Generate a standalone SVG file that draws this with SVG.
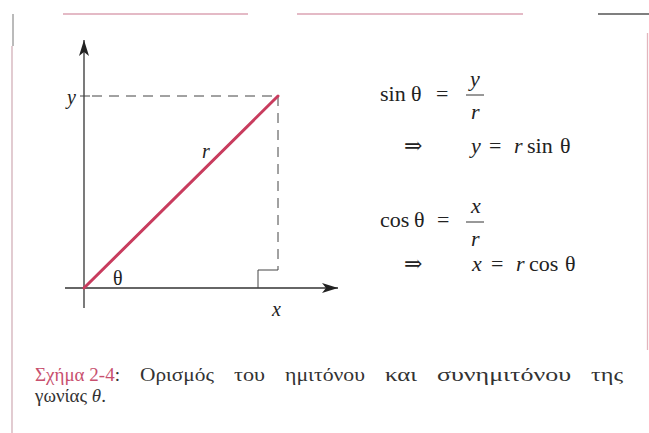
<svg xmlns="http://www.w3.org/2000/svg" width="649" height="433" viewBox="0 0 649 433">
<defs>
<style>
.m{font-family:"Liberation Serif","DejaVu Serif","Times New Roman",serif;font-size:22px;fill:#222}
.s{font-size:20px}
.i{font-style:italic}
.cap{font-family:"Liberation Serif","DejaVu Serif","Times New Roman",serif;font-size:19px;fill:#333}
.red{fill:#c8506e}
.ax{stroke:#333;stroke-width:1.3;fill:none}
.dash{stroke:#444;stroke-width:1;stroke-dasharray:10 7;fill:none}
.frac{stroke:#333;stroke-width:1}
</style>
<marker id="ah" viewBox="0 0 16 10" refX="16" refY="5" markerWidth="16" markerHeight="10" markerUnits="userSpaceOnUse" orient="auto">
<path d="M0,0 L16,5 L0,10 L4,5 Z" fill="#222"/>
</marker>
</defs>
<rect width="649" height="433" fill="#fff"/>
<g id="frame">
<line x1="63" y1="14" x2="248" y2="14" stroke="#dba3b3" stroke-width="1.5"/>
<line x1="297" y1="14" x2="523" y2="14" stroke="#dba3b3" stroke-width="1.5"/>
<line x1="598" y1="14" x2="649" y2="14" stroke="#555" stroke-width="1.3"/>
<line x1="13" y1="14" x2="13" y2="46" stroke="#777" stroke-width="1"/>
<line x1="12" y1="46" x2="12" y2="433" stroke="#d3b0b8" stroke-width="1.3"/>
<line x1="647.5" y1="33" x2="647.5" y2="350" stroke="#e3b5bd" stroke-width="1.3"/>
</g>
<g id="axes">
<line class="ax" x1="84" y1="308" x2="84" y2="40" marker-end="url(#ah)"/>
<line class="ax" x1="65" y1="288" x2="338" y2="288" marker-end="url(#ah)"/>
</g>
<g id="connectors">
<line class="dash" x1="92" y1="96" x2="278" y2="96"/>
<line class="dash" x1="278" y1="96" x2="278" y2="270"/>
<line x1="80" y1="96" x2="90" y2="96" stroke="#444" stroke-width="1"/>
<path d="M258,288 V270 H278" fill="none" stroke="#444" stroke-width="1"/>
<line x1="84" y1="288" x2="278" y2="96" stroke="#c83c5e" stroke-width="3" stroke-linecap="round"/>
</g>
<g id="labels">
<text class="m s i" x="67" y="104">y</text>
<text class="m s i" x="202" y="158">r</text>
<text class="m s" x="113" y="285">θ</text>
<text class="m s i" x="272" y="316">x</text>
</g>
<g id="sin-eq">
<text class="m" x="380" y="101">sin</text>
<text class="m" x="411" y="101">θ</text>
<text class="m" x="436" y="101">=</text>
<text class="m i" x="470" y="86">y</text>
<line class="frac" x1="466" y1="95" x2="484" y2="95"/>
<text class="m i" x="471" y="119">r</text>
<text class="m" x="404" y="153">⇒</text>
<text class="m i" x="471" y="153">y</text>
<text class="m" x="489" y="153">=</text>
<text class="m i" x="514" y="153">r</text>
<text class="m" x="527" y="153">sin</text>
<text class="m" x="560" y="153">θ</text>
</g>
<g id="cos-eq">
<text class="m" x="380" y="227">cos</text>
<text class="m" x="414" y="227">θ</text>
<text class="m" x="437" y="227">=</text>
<text class="m i" x="471" y="213">x</text>
<line class="frac" x1="466" y1="222" x2="484" y2="222"/>
<text class="m i" x="471" y="246">r</text>
<text class="m" x="404" y="271">⇒</text>
<text class="m i" x="472" y="271">x</text>
<text class="m" x="491" y="271">=</text>
<text class="m i" x="516" y="271">r</text>
<text class="m" x="529" y="271">cos</text>
<text class="m" x="565" y="271">θ</text>
</g>
<g id="caption">
<text class="cap" y="381"><tspan class="red" x="35">Σχήμα 2-4</tspan><tspan>:</tspan><tspan x="140" textLength="74" lengthAdjust="spacingAndGlyphs">Ορισμός</tspan><tspan x="234" textLength="31" lengthAdjust="spacingAndGlyphs">του</tspan><tspan x="285" textLength="80" lengthAdjust="spacingAndGlyphs">ημιτόνου</tspan><tspan x="385" textLength="32" lengthAdjust="spacingAndGlyphs">και</tspan><tspan x="437" textLength="134" lengthAdjust="spacingAndGlyphs">συνημιτόνου</tspan><tspan x="591" textLength="32" lengthAdjust="spacingAndGlyphs">της</tspan></text>
<text class="cap" x="35" y="402">γωνίας <tspan font-style="italic">θ</tspan>.</text>
</g>
</svg>
